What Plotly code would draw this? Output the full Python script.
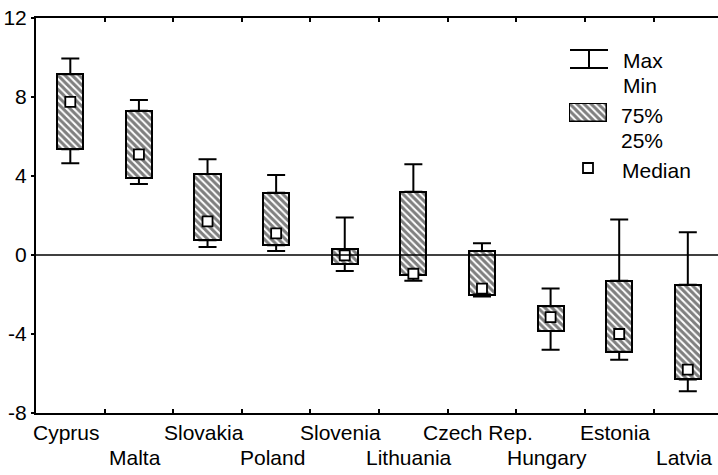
import plotly.graph_objects as go

countries = ["Cyprus", "Malta", "Slovakia", "Poland", "Slovenia",
             "Lithuania", "Czech Rep.", "Hungary", "Estonia", "Latvia"]
vmax = [9.95, 7.85, 4.85, 4.05, 1.9, 4.6, 0.6, -1.7, 1.8, 1.15]
q75 = [9.15, 7.3, 4.1, 3.15, 0.3, 3.2, 0.2, -2.6, -1.3, -1.5]
median = [7.75, 5.1, 1.7, 1.1, -0.02, -0.95, -1.7, -3.15, -4.0, -5.8]
q25 = [5.35, 3.9, 0.75, 0.5, -0.46, -1.0, -2.0, -3.85, -4.9, -6.3]
vmin = [4.65, 3.6, 0.4, 0.2, -0.81, -1.3, -2.1, -4.8, -5.3, -6.9]
yticks = [-8, -4, 0, 4, 8, 12]
ytick_text = ["-8", "-4", "0", "4", "8", "12"]
legend_labels = ["Max", "Min", "75%", "25%", "Median"]

FONT = "Liberation Sans, Arial, sans-serif"
FS = 21
W, H = 718, 475
ML, MR, MT, MB = 36, 0, 18, 62
PW, PH = W - ML - MR, H - MT - MB


def px(x):
    return (x - ML) / PW


def py(y):
    return (H - MB - y) / PH


HATCH = dict(shape="\\", fgcolor="black", bgcolor="white", size=5, solidity=0.6)

fig = go.Figure()

# whiskers (upper and lower) via error bars
fig.add_trace(go.Scatter(
    x=countries, y=q75, mode="markers",
    marker=dict(size=1, color="rgba(0,0,0,0)"),
    error_y=dict(type="data", symmetric=False,
                 array=[a - b for a, b in zip(vmax, q75)],
                 arrayminus=[0] * len(countries),
                 color="black", thickness=2, width=9),
    showlegend=False, hoverinfo="skip"))
fig.add_trace(go.Scatter(
    x=countries, y=q25, mode="markers",
    marker=dict(size=1, color="rgba(0,0,0,0)"),
    error_y=dict(type="data", symmetric=False,
                 array=[0] * len(countries),
                 arrayminus=[a - b for a, b in zip(q25, vmin)],
                 color="black", thickness=2, width=9),
    showlegend=False, hoverinfo="skip"))

# boxes
fig.add_trace(go.Bar(
    x=countries, y=[a - b for a, b in zip(q75, q25)], base=q25,
    width=0.38,
    marker=dict(color="white", line=dict(color="black", width=2), pattern=HATCH),
    showlegend=False, hoverinfo="skip"))

# medians
fig.add_trace(go.Scatter(
    x=countries, y=median, mode="markers",
    marker=dict(symbol="square", size=10, color="white",
                line=dict(color="black", width=1.8)),
    showlegend=False, hoverinfo="skip"))

# legend hatched swatch on an inset axis
fig.add_trace(go.Bar(
    x=[0], y=[1], width=1, xaxis="x2", yaxis="y2",
    marker=dict(color="white", line=dict(color="black", width=1.5), pattern=HATCH),
    showlegend=False, hoverinfo="skip"))

shapes = []
# zero line above the boxes
shapes.append(dict(type="line", xref="paper", yref="y", x0=0, x1=1, y0=0, y1=0,
                   line=dict(color="black", width=1.5), layer="above"))
# legend I-beam
for yy in (50, 68):
    shapes.append(dict(type="line", xref="paper", yref="paper",
                       x0=px(570), x1=px(608), y0=py(yy), y1=py(yy),
                       line=dict(color="black", width=2)))
shapes.append(dict(type="line", xref="paper", yref="paper",
                   x0=px(589), x1=px(589), y0=py(50), y1=py(68),
                   line=dict(color="black", width=2)))
# legend median square
shapes.append(dict(type="rect", xref="paper", yref="paper",
                   x0=px(583), x1=px(593), y0=py(173), y1=py(163),
                   fillcolor="white", line=dict(color="black", width=1.8)))

annotations = []
for i, c in enumerate(countries):
    annotations.append(dict(
        x=c, xref="x", y=0, yref="paper", yanchor="top", xanchor="center",
        text=c, showarrow=False, yshift=-6 if i % 2 == 0 else -31, xshift=-4,
        font=dict(family=FONT, size=FS, color="black")))

leg_y = [60.5, 85.5, 115.5, 140, 170]
leg_x = [621, 621, 619, 619, 620]
for t, yy, xx in zip(legend_labels, leg_y, leg_x):
    annotations.append(dict(
        x=px(xx), xref="paper", y=py(yy), yref="paper",
        xanchor="left", yanchor="middle", text=t, showarrow=False,
        font=dict(family=FONT, size=FS, color="black")))

fig.update_layout(
    width=W, height=H,
    margin=dict(l=ML, r=MR, t=MT, b=MB, autoexpand=False),
    paper_bgcolor="white", plot_bgcolor="white",
    font=dict(family=FONT, size=FS, color="black"),
    showlegend=False, bargap=0, hovermode=False,
    shapes=shapes, annotations=annotations,
    xaxis=dict(type="category", range=[-0.5, 9.44], automargin=False,
               showline=True, linecolor="black", linewidth=2, mirror="ticks",
               ticks="inside", ticklen=4, tickwidth=1.5, tickcolor="black",
               tickson="boundaries", showticklabels=False, showgrid=False,
               zeroline=False),
    yaxis=dict(range=[-8, 12], tickvals=yticks, ticktext=ytick_text,
               automargin=False, ticklabeloverflow="allow",
               showline=True, linecolor="black", linewidth=2, mirror=False,
               ticks="outside", ticklen=3, tickwidth=1.5, tickcolor="black",
               showgrid=False, zeroline=False,
               tickfont=dict(family=FONT, size=FS, color="black")),
    xaxis2=dict(domain=[px(569), px(608)], range=[-0.53, 0.53], visible=False,
                anchor="y2", fixedrange=True),
    yaxis2=dict(domain=[py(123), py(103)], range=[-0.05, 1.05], visible=False,
                anchor="x2", fixedrange=True),
)

fig.write_html("out.html",
               config={"displayModeBar": False},
               post_script="document.body.style.margin='0px';"
                           "document.body.style.overflow='hidden';")
